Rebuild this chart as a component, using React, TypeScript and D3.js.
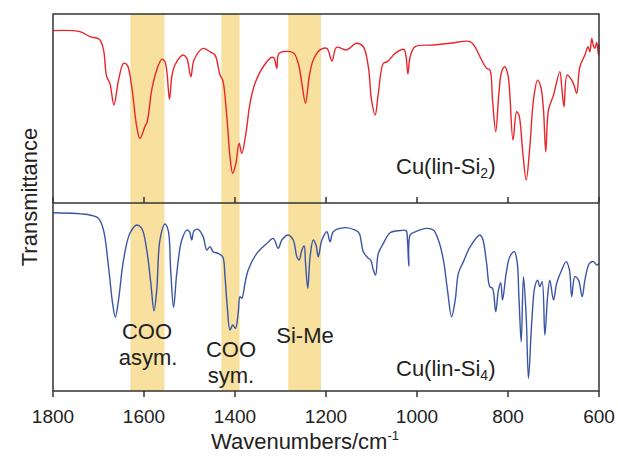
import React from 'react';
import * as d3 from 'd3';

const xTicks = [1800, 1600, 1400, 1200, 1000, 800, 600];
const bandStarts = [1630, 1430, 1283];
const bandEnds = [1555, 1390, 1211];

const topWn = [1800,1741,1719,1698,1689,1682,1675,1666,1656,1645,1637,1627,1616,1609,1598,1593,1583,1572,1561,1554,1544,1539,1532,1514,1506,1497,1490,1470,1455,1444,1433,1427,1418,1411,1405,1398,1391,1385,1376,1367,1356,1338,1319,1314,1308,1303,1272,1261,1253,1245,1237,1228,1213,1198,1187,1177,1155,1133,1118,1107,1100,1092,1085,1074,1065,1048,1029,1024,1020,1015,1004,964,927,883,873,858,847,840,834,827,820,814,807,800,789,781,776,768,760,752,744,735,728,722,717,711,700,686,682,677,670,660,655,649,642,631,624,620,616,612,609,605,601,600];
const topT = [91.2,90.7,88,86.6,81,66.8,63.3,51.9,65,73.9,73,61.5,40.4,34.2,40.4,43,59.8,70.4,76,74.8,54.9,66.8,73,78.3,76.6,66.8,75.7,81.8,80,78.3,67.7,65,45.7,24.5,15.7,21,31.6,26.3,36.9,52.7,63.3,72.1,77.1,76.6,71.3,79.2,79.5,73.9,63.3,52.7,66.8,75.7,81,81.8,75.1,82.4,81,84.5,82.7,72.1,54.5,46.6,58,73.9,74.8,79.2,81.3,77.4,68.3,77.4,82.7,83.6,84.5,85.4,82.7,75.7,71.3,70.4,54.5,37.7,58,69.5,72.1,67.7,33.3,48.3,46.6,28,12.2,29.8,54.5,65,61.5,49.2,27.1,49.2,57.1,69.5,61.5,51,67.7,65,62.4,58,72.1,78.3,82.7,80,87.1,83,81.8,85,78.3,84];

const botWn = [1800,1719,1700,1689,1678,1669,1663,1656,1645,1631,1616,1605,1594,1585,1578,1572,1565,1554,1547,1541,1535,1528,1517,1506,1500,1495,1490,1481,1470,1462,1455,1448,1437,1427,1422,1417,1411,1405,1399,1393,1389,1385,1378,1371,1352,1330,1316,1305,1297,1283,1272,1264,1259,1253,1248,1245,1240,1235,1228,1222,1217,1209,1198,1191,1184,1158,1136,1127,1118,1107,1102,1096,1091,1085,1074,1059,1037,1024,1021,1018,1015,1004,979,964,953,942,933,924,916,909,898,883,862,856,847,840,834,827,821,816,812,804,796,786,780,776,771,766,760,755,748,741,735,730,725,719,713,708,700,693,682,672,665,660,653,645,637,631,621,612,605,600];
const botT = [94.8,93.6,91.8,85.6,66.1,46.6,39.2,48.4,69.7,83.9,88.3,86.5,75,57.3,42.7,53.7,80.3,88.8,85.6,62.6,44.5,62.6,80.3,85.6,84.7,80.3,85.3,86,82.1,75,76.8,74.1,73.2,71.4,60.8,44.9,32.4,35.1,33.3,41.3,50.2,49.3,57.3,64.4,73.2,78.5,81.2,75.9,80.3,83,80.3,71.4,69.7,75,77.1,67.9,54.6,71.4,80.3,77.7,71.4,80.3,84.7,79.4,84.7,86.9,85.6,83.9,74.1,70.6,69.7,64.4,61.7,73.2,78.5,84.2,85.3,85.3,80.3,66.5,83,84.7,86.5,85.6,80.3,69.7,53.7,39.5,48.4,62.6,68.8,76.8,83,81.2,67.9,55.5,54.6,42.2,53.7,57.6,48.4,62.6,71.4,74.1,68.8,50.2,26.2,60.8,39.5,6.7,36,55.5,59,55.5,58.1,29.8,50.2,59,48.4,57.3,64.4,68.8,64.4,50.2,60.8,59,50.2,59,67.9,68.8,67,67.9];

const FONT = 'Liberation Sans, Arial, Helvetica, sans-serif';

export default function App() {
  const W = 618, H = 459;
  const left = 53, right = 599, top = 14, mid = 203, bottom = 391;
  const x = d3.scaleLinear().domain([1800, 600]).range([left, right]);
  const yTop = d3.scaleLinear().domain([0, 100]).range([mid, top]);
  const yBot = d3.scaleLinear().domain([0, 100]).range([bottom, mid]);

  const mkLine = (wn: number[], t: number[], y: d3.ScaleLinear<number, number>) =>
    d3.line<number>()
      .x((_, i) => x(wn[i]))
      .y((d) => y(d))
      .curve(d3.curveCatmullRom.alpha(0.5))(t) || '';

  const frame = '#333';
  return (
    <svg width={W} height={H} style={{ position: 'absolute', left: 0, top: 0, display: 'block', background: '#fff' }} fontFamily={FONT}>
      {bandStarts.map((s, i) => (
        <rect key={i} x={x(s)} y={top} width={x(bandEnds[i]) - x(s)} height={bottom - top} fill="#F8E09E" />
      ))}
      <path d={mkLine(topWn, topT, yTop)} fill="none" stroke="#E8262B" strokeWidth={1.4} strokeLinejoin="round" />
      <path d={mkLine(botWn, botT, yBot)} fill="none" stroke="#3A55A8" strokeWidth={1.4} strokeLinejoin="round" />
      {/* frame */}
      <path d={`M${left},${bottom}V${top}H${right}V${bottom}Z`} fill="none" stroke={frame} strokeWidth={1.5} />
      <line x1={left} x2={right} y1={mid} y2={mid} stroke={frame} strokeWidth={1.5} />
      {xTicks.map((t) => (
        <g key={t}>
          <line x1={x(t)} x2={x(t)} y1={mid} y2={mid - 6} stroke={frame} strokeWidth={1.5} />
          <line x1={x(t)} x2={x(t)} y1={bottom} y2={bottom + 6} stroke={frame} strokeWidth={1.5} />
          <text x={x(t)} y={423} textAnchor="middle" fontSize={19} fill="#222">{t}</text>
        </g>
      ))}
      <text x={305} y={449} textAnchor="middle" fontSize={22} fill="#222">
        Wavenumbers/cm<tspan fontSize={13} dy={-9}>-1</tspan>
      </text>
      <text transform="translate(37,197) rotate(-90)" textAnchor="middle" fontSize={22} fill="#222">Transmittance</text>
      <text x={396} y={174} fontSize={22} fill="#222">
        Cu(lin-Si<tspan fontSize={14} dy={4}>2</tspan><tspan dy={-4}>)</tspan>
      </text>
      <text x={396} y={376} fontSize={22} fill="#222">
        Cu(lin-Si<tspan fontSize={14} dy={4}>4</tspan><tspan dy={-4}>)</tspan>
      </text>
      <text x={147} y={339} textAnchor="middle" fontSize={22} fill="#222">COO</text>
      <text x={148} y={365} textAnchor="middle" fontSize={22} fill="#222">asym.</text>
      <text x={231} y={357} textAnchor="middle" fontSize={22} fill="#222">COO</text>
      <text x={231} y={383} textAnchor="middle" fontSize={22} fill="#222">sym.</text>
      <text x={305} y={343} textAnchor="middle" fontSize={22} fill="#222">Si-Me</text>
    </svg>
  );
}
